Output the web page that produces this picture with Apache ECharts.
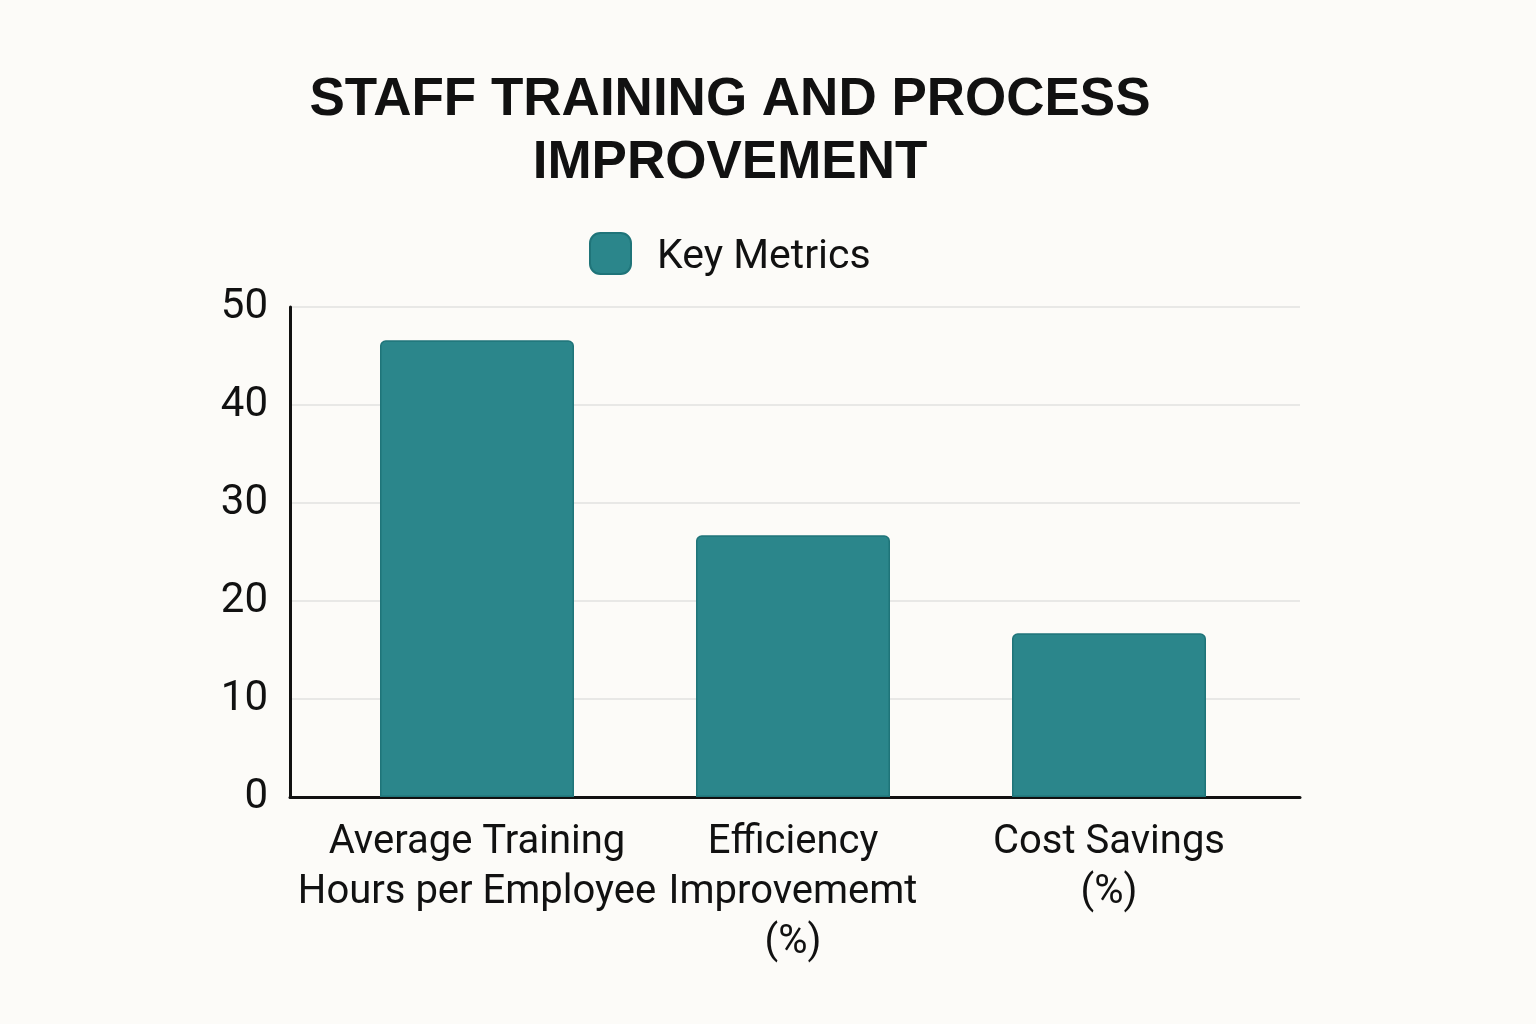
<!DOCTYPE html>
<html>
<head>
<meta charset="utf-8">
<script src="https://cdn.jsdelivr.net/npm/echarts@6/dist/echarts.min.js"></script>
<style>
html,body{margin:0;padding:0;background:#fcfbf8;}
#chart{width:1536px;height:1024px;}
</style>
</head>
<body>
<div id="chart"></div>
<script>
const categories = ['Average Training\nHours per Employee', 'Efficiency\nImprovememt\n(%)', 'Cost Savings\n(%)'];
const values = [46.6, 26.7, 16.7];
const seriesName = 'Key Metrics';
const yTicks = {min: 0, max: 50, interval: 10};

const chart = echarts.init(document.getElementById('chart'), null, {renderer: 'canvas'});
const font = 'Roboto, "Noto Sans", sans-serif';
const teal = '#2b868b';
const option = {
  backgroundColor: '#fcfbf8',
  animation: false,
  title: {
    text: 'STAFF TRAINING AND PROCESS\nIMPROVEMENT',
    left: 725,
    top: 64,
    textAlign: 'center',
    textStyle: {
      fontFamily: '"Liberation Sans", Arial, sans-serif',
      fontWeight: 'bold',
      fontSize: 53,
      lineHeight: 63,
      color: '#111111'
    }
  },
  legend: {
    data: [seriesName],
    left: 584,
    top: 227,
    itemWidth: 41,
    itemHeight: 41,
    itemGap: 20,
    formatter: '{a|{name}}',
    textStyle: {
      fontFamily: font, fontSize: 41, color: '#111111',
      rich: {a: {fontFamily: font, fontSize: 41, color: '#111111', padding: [9, 0, 0, 21]}}
    },
    itemStyle: {borderRadius: 5}
  },
  grid: [
    {left: 290, right: 236, top: 307, bottom: 227, containLabel: false},
    {left: 319, right: 269, top: 307, bottom: 227, containLabel: false}
  ],
  xAxis: [
    {
      type: 'category', gridIndex: 0, data: categories,
      axisLine: {lineStyle: {color: '#111111', width: 3}},
      axisTick: {show: false}, axisLabel: {show: false}, splitLine: {show: false}
    },
    {
      type: 'category', gridIndex: 1, data: categories,
      axisLine: {show: false}, axisTick: {show: false},
      axisLabel: {
        fontFamily: font, fontSize: 40, lineHeight: 50, color: '#111111',
        margin: 21, interval: 0, align: 'center'
      }
    }
  ],
  yAxis: [
    {
      type: 'value', gridIndex: 0, min: yTicks.min, max: yTicks.max, interval: yTicks.interval,
      axisLine: {show: true, lineStyle: {color: '#111111', width: 3}},
      axisTick: {show: false},
      axisLabel: {fontFamily: font, fontSize: 42, color: '#111111', margin: 22},
      splitLine: {lineStyle: {color: '#e2e2e0', width: 1.5}}
    },
    {
      type: 'value', gridIndex: 1, min: yTicks.min, max: yTicks.max, interval: yTicks.interval,
      show: false, splitLine: {show: false}
    }
  ],
  series: [
    {
      name: seriesName,
      type: 'bar',
      xAxisIndex: 1, yAxisIndex: 1,
      data: values,
      barWidth: 194,
      itemStyle: {color: teal, borderColor: '#1f7479', borderWidth: 1.5, borderRadius: [5, 5, 0, 0]}
    }
  ]
};
chart.setOption(option);
</script>
</body>
</html>
